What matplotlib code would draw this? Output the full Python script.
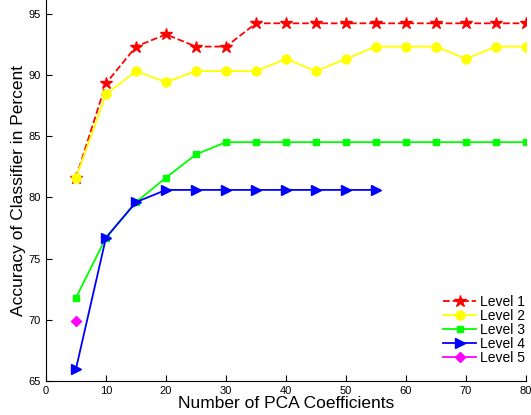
import matplotlib
matplotlib.use('Agg')
import matplotlib.pyplot as plt

# PCA coefficient counts
x_full = [5, 10, 15, 20, 25, 30, 35, 40, 45, 50, 55, 60, 65, 70, 75, 80]
x_l4 = [5, 10, 15, 20, 25, 30, 35, 40, 45, 50, 55]
x_l5 = [5]

# Accuracy values (percent)
level1 = [81.6, 89.3, 92.3, 93.3, 92.3, 92.3, 94.2, 94.2, 94.2, 94.2, 94.2, 94.2, 94.2, 94.2, 94.2, 94.2]
level2 = [81.6, 88.4, 90.3, 89.4, 90.3, 90.3, 90.3, 91.3, 90.3, 91.3, 92.3, 92.3, 92.3, 91.3, 92.3, 92.3]
level3 = [71.8, 76.7, 79.6, 81.6, 83.5, 84.5, 84.5, 84.5, 84.5, 84.5, 84.5, 84.5, 84.5, 84.5, 84.5, 84.5]
level4 = [66.0, 76.7, 79.6, 80.6, 80.6, 80.6, 80.6, 80.6, 80.6, 80.6, 80.6]
level5 = [69.9]

plt.rcParams['font.family'] = ['Liberation Sans', 'DejaVu Sans']

fig = plt.figure(figsize=(5.31, 4.15), dpi=100)
ax = fig.add_axes([0.0866, 0.0819, 0.904, 0.918])

ax.plot(x_full, level1, color='#ff0000', linestyle='--', linewidth=1.3, marker='*',
        markersize=9, label='Level 1')
ax.plot(x_full, level2, color='#ffff00', linewidth=1.3, marker='o',
        markersize=6.5, label='Level 2')
ax.plot(x_full, level3, color='#00ff00', linewidth=1.3, marker='s',
        markersize=4.5, label='Level 3')
ax.plot(x_l4, level4, color='#0000ff', linewidth=1.3, marker='>',
        markersize=6.5, label='Level 4')
ax.plot(x_l5, level5, color='#ff00ff', linewidth=1.3, marker='D',
        markersize=5, label='Level 5')

ax.set_xlim(0, 80)
ax.set_ylim(65, 96.1)
ax.set_xticks(range(0, 81, 10))
ax.set_yticks(range(65, 96, 5))
ax.tick_params(direction='in', labelsize=8, length=4, width=0.8)

ax.spines['top'].set_visible(False)
ax.spines['right'].set_visible(False)

ax.set_xlabel('Number of PCA Coefficients', fontsize=12.5, labelpad=0)
ax.set_ylabel('Accuracy of Classifier in Percent', fontsize=12.5, labelpad=2)

ax.legend(loc='lower right', bbox_to_anchor=(1.015, 0.02), frameon=False,
          fontsize=10, handlelength=2.4, handletextpad=0.25, labelspacing=0.0,
          borderpad=0.1)

plt.savefig('out.png', dpi=100)
plt.close()
